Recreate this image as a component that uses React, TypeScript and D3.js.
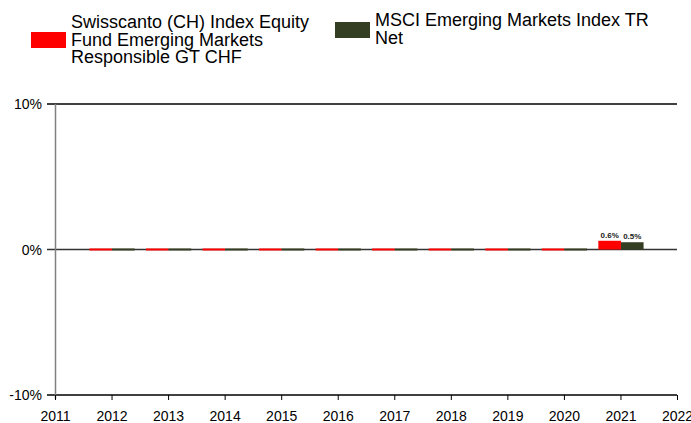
import React from "react";
import * as d3 from "d3";

const years = [2012, 2013, 2014, 2015, 2016, 2017, 2018, 2019, 2020, 2021];
const fundValues = [0, 0, 0, 0, 0, 0, 0, 0, 0, 0.6];
const benchValues = [0, 0, 0, 0, 0, 0, 0, 0, 0, 0.5];
const fundLabels = ["", "", "", "", "", "", "", "", "", "0.6%"];
const benchLabels = ["", "", "", "", "", "", "", "", "", "0.5%"];
const xTicks = [2011, 2012, 2013, 2014, 2015, 2016, 2017, 2018, 2019, 2020, 2021, 2022];
const yTicks = [-10, 0, 10];
const seriesNames = [
  ["Swisscanto (CH) Index Equity", "Fund Emerging Markets", "Responsible GT CHF"],
  ["MSCI Emerging Markets Index TR", "Net"],
];
const colors = ["#ff0000", "#343e23"];

export default function App() {
  const W = 691, H = 423;
  const x = d3.scaleLinear().domain([2011, 2022]).range([55.5, 677.5]);
  const y = d3.scaleLinear().domain([-10, 10]).range([395, 104]);
  const bw = (x(2012) - x(2011)) * 0.4;
  const font = "'Liberation Sans', Arial, sans-serif";
  const bar = (v: number, yr: number, i: number, series: number) => {
    const x0 = series === 0 ? x(yr) - bw : x(yr);
    const h = Math.max(2, Math.abs(y(v) - y(0)));
    const top = v > 0 ? y(v) : v < 0 ? y(0) : y(0) - 1;
    return <rect key={`${series}-${i}`} x={x0} y={top} width={bw} height={h} fill={colors[series]} />;
  };
  return (
    <svg width={W} height={H} style={{ position: "absolute", left: 0, top: 0 }} fontFamily={font}>
      {/* legend */}
      <rect x={31} y={32} width={35} height={16} fill={colors[0]} />
      {seriesNames[0].map((t, i) => (
        <text key={t} x={71} y={28 + i * 17.5} fontSize={18}>{t}</text>
      ))}
      <rect x={335} y={22} width={35} height={16} fill={colors[1]} />
      {seriesNames[1].map((t, i) => (
        <text key={t} x={375} y={26 + i * 17.5} fontSize={18}>{t}</text>
      ))}
      {/* gridlines */}
      {yTicks.map((v) => (
        <line key={v} x1={47} x2={677} y1={y(v)} y2={y(v)} stroke={v === 0 ? "#333" : "#000"} strokeWidth={1.3} />
      ))}
      {yTicks.map((v) => (
        <text key={"t" + v} x={42} y={y(v) + 5} textAnchor="end" fontSize={14}>{v}%</text>
      ))}
      {/* bars */}
      {years.map((yr, i) => bar(fundValues[i], yr, i, 0))}
      {years.map((yr, i) => bar(benchValues[i], yr, i, 1))}
      {years.map((yr, i) => fundLabels[i] ? (
        <text key={"fl" + i} x={x(yr) - bw / 2} y={y(fundValues[i]) - 3} textAnchor="middle" fontSize={8} fontWeight="bold" fill="#222">{fundLabels[i]}</text>
      ) : null)}
      {years.map((yr, i) => benchLabels[i] ? (
        <text key={"bl" + i} x={x(yr) + bw / 2} y={y(benchValues[i]) - 3} textAnchor="middle" fontSize={8} fontWeight="bold" fill="#222">{benchLabels[i]}</text>
      ) : null)}
      {/* left axis */}
      <line x1={55.5} x2={55.5} y1={104} y2={399} stroke="#808080" strokeWidth={1.5} />
      {/* x ticks */}
      {xTicks.map((t) => (
        <g key={t}>
          <line x1={x(t)} x2={x(t)} y1={395} y2={400} stroke="#000" strokeWidth={1} />
          <text x={x(t)} y={421} textAnchor="middle" fontSize={14}>{t}</text>
        </g>
      ))}
    </svg>
  );
}
